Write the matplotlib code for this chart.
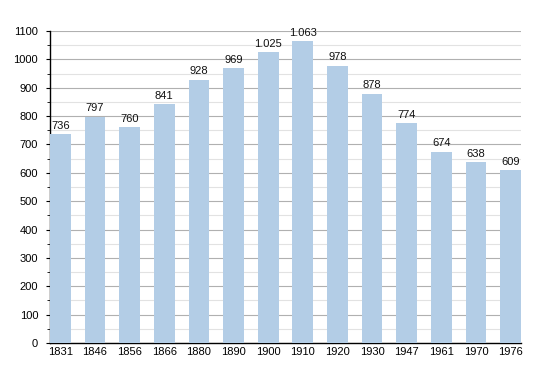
import matplotlib
matplotlib.use("Agg")
import matplotlib.pyplot as plt
from matplotlib.ticker import MultipleLocator

years = ["1831", "1846", "1856", "1866", "1880", "1890", "1900", "1910", "1920", "1930", "1947", "1961", "1970", "1976"]
population = [736, 797, 760, 841, 928, 969, 1025, 1063, 978, 878, 774, 674, 638, 609]

plt.rcParams['font.family'] = ['Liberation Sans', 'DejaVu Sans']

fig = plt.figure(figsize=(5.5, 3.73), dpi=100)
ax = fig.add_axes([50/550, 1 - 343/373, 471/550, (343 - 31)/373])

x = range(len(years))
ax.bar(x, population, width=0.6, color="#b3cde6", zorder=3)

for xi, v in zip(x, population):
    lab = f"{v:,}".replace(",", ".")
    ax.annotate(lab, (xi, v), xytext=(0, 2.5), textcoords="offset points",
                ha="center", va="bottom", fontsize=8, color="#111111", zorder=4)

ax.set_xlim(-0.3, 13.3)
ax.set_ylim(0, 1100)
ax.yaxis.set_major_locator(MultipleLocator(100))
ax.yaxis.set_minor_locator(MultipleLocator(50))
ax.grid(axis="y", which="major", color="#b0b0b0", linewidth=0.8, zorder=1)
ax.grid(axis="y", which="minor", color="#e2e2e2", linewidth=0.8, zorder=1)
ax.set_xticks(list(x))
ax.set_xticklabels(years)
ax.tick_params(axis="x", length=0, labelsize=8, pad=3)
ax.tick_params(axis="y", which="major", length=3, labelsize=8, pad=5.5, direction="out")
ax.tick_params(axis="y", which="minor", length=2, direction="out")
for s in ["top", "right"]:
    ax.spines[s].set_visible(False)
ax.spines["left"].set_linewidth(1.0)
ax.spines["bottom"].set_linewidth(1.0)

fig.savefig("out.png", dpi=100)
